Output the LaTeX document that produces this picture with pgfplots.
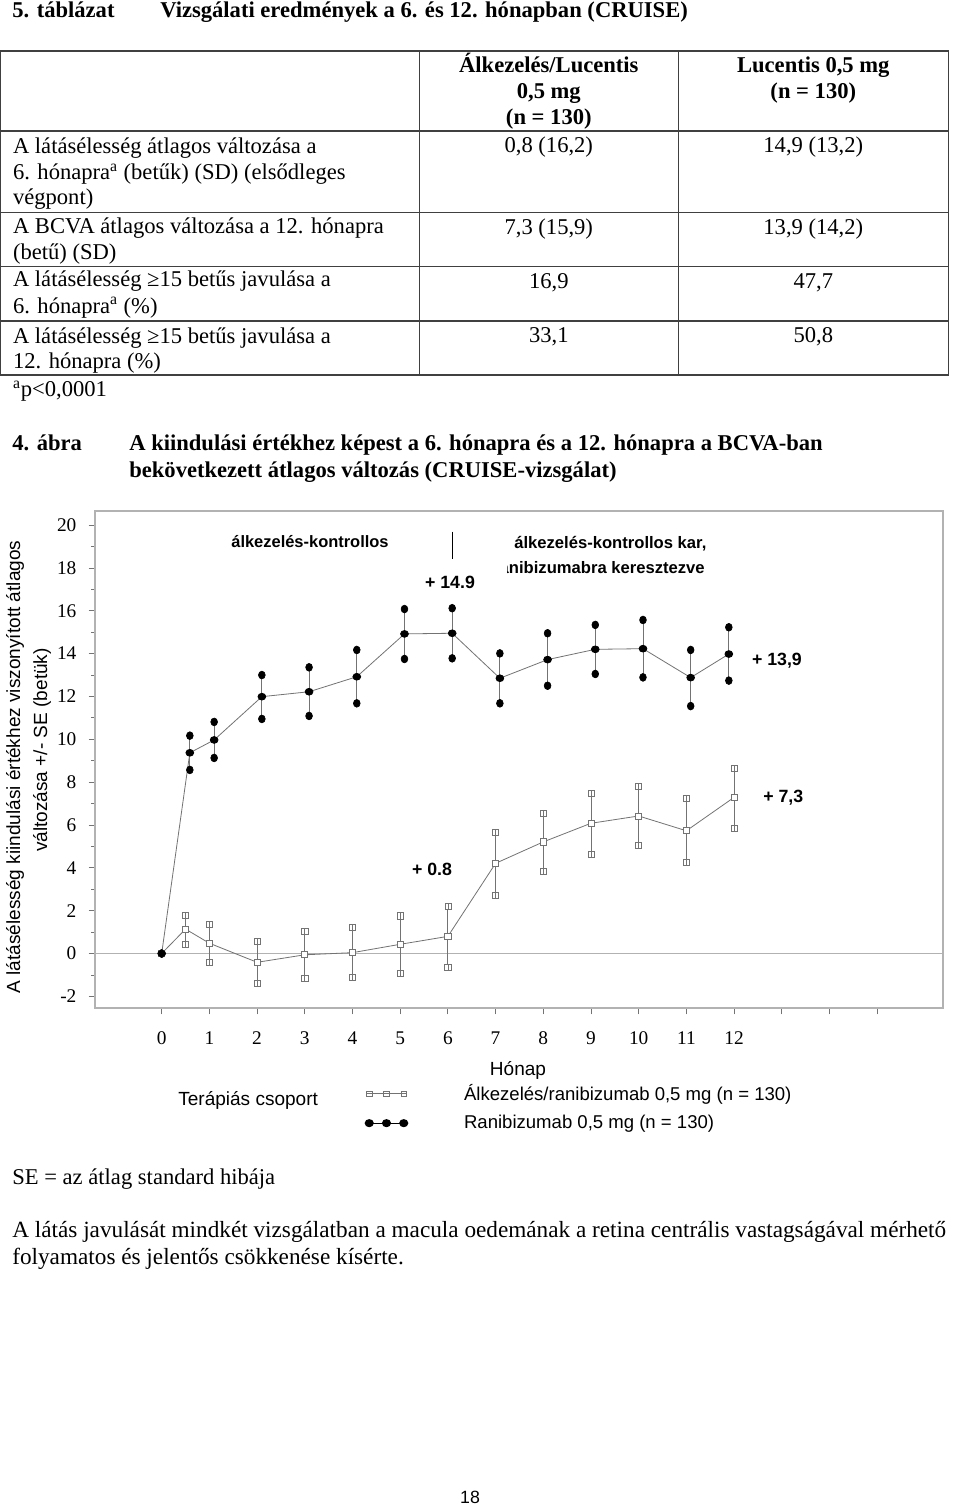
\documentclass[border=0pt]{standalone}
\usepackage{fontspec}
\setmainfont{Liberation Serif}
\newfontfamily\arial{Liberation Sans}
\usepackage{pgfplots}
\pgfplotsset{compat=1.18}
\usepackage{pgfplotstable}
\newcommand\fs[2]{\fontsize{#1}{#2}\selectfont}

\pgfdeclareplotmark{sqbar}{%
  \pgfpathrectangle{\pgfqpoint{-\pgfplotmarksize}{-\pgfplotmarksize}}{\pgfqpoint{2\pgfplotmarksize}{2\pgfplotmarksize}}%
  \pgfusepathqfillstroke
  \pgfpathmoveto{\pgfqpoint{-\pgfplotmarksize}{0pt}}%
  \pgfpathlineto{\pgfqpoint{\pgfplotmarksize}{0pt}}%
  \pgfusepathqstroke}

\pgfplotsset{
  sqleg/.style={legend image code/.code={\draw[##1, mark=sqbar, mark repeat=1, mark phase=1, mark size=1.7pt] plot coordinates {(1.7pt,0pt) (12.4pt,0pt) (23.1pt,0pt)};}},
  cileg/.style={legend image code/.code={\draw[##1, black, line width=0.8pt, mark repeat=1, mark phase=1] plot coordinates {(1.7pt,0pt) (12.4pt,0pt) (23.1pt,0pt)};}},
}

% Alkezeles/ranibizumab (squares)
\pgfplotstableread{
x    y      ep    em
0    0      0     0
0.5  1.14   0.66  0.70
1    0.48   0.88  0.89
2   -0.41   0.96  0.97
3   -0.06   1.11  1.10
4    0.04   1.20  1.15
5    0.43   1.33  1.35
6    0.80   1.42  1.44
7    4.21   1.45  1.49
8    5.21   1.35  1.37
9    6.08   1.41  1.43
10   6.42   1.37  1.37
11   5.73   1.50  1.47
12   7.29   1.37  1.43
}\tabSq

% Ranibizumab (filled circles)
\pgfplotstableread{
x      y      ep    em
0      0      0     0
0.59   9.37   0.80  0.80
1.10   9.97   0.84  0.84
2.10   11.99  1.01  1.04
3.09   12.22  1.14  1.13
4.09   12.92  1.25  1.24
5.09   14.92  1.16  1.17
6.09   14.95  1.17  1.17
7.09   12.85  1.16  1.17
8.09   13.72  1.23  1.22
9.09   14.20  1.14  1.15
10.09  14.23  1.34  1.34
11.09  12.88  1.29  1.33
11.89  13.98  1.25  1.24
}\tabCi

\begin{document}
\begin{tikzpicture}
\useasboundingbox (0pt,0pt) rectangle (595.2pt,-935.58pt);
\begin{scope}[x=0.62pt,y=-0.62pt]
% title
\node[anchor=base west,inner sep=0pt] at (12,18) {\fs{14}{16}\bfseries 5. táblázat};
\node[anchor=base west,inner sep=0pt] at (160,18) {\fs{14}{16}\bfseries Vizsgálati eredmények a 6. és 12. hónapban (CRUISE)};
% table lines
\draw[black!75,line width=0.9pt] (0.5,51) rectangle (948.3,375);
\draw[black!75,line width=0.9pt] (419.3,51) -- (419.3,375) (678.3,51) -- (678.3,375)
  (0.5,131) -- (948.3,131) (0.5,212.3) -- (948.3,212.3) (0.5,266.7) -- (948.3,266.7) (0.5,321) -- (948.3,321);
% header
\begin{scope}[every node/.style={anchor=base,inner sep=0pt,font=\fs{14}{16}\bfseries}]
\node at (548.8,73) {Álkezelés/Lucentis};
\node at (548.8,99) {0,5 mg};
\node at (548.8,125) {(n = 130)};
\node at (813.3,73) {Lucentis 0,5 mg};
\node at (813.3,99) {(n = 130)};
\end{scope}
\begin{scope}[every node/.style={anchor=base west,inner sep=0pt,font=\fs{14}{16}}]
\node at (12.7,154) {A látásélesség átlagos változása a};
\node at (12.7,180) {6. hónapra\textsuperscript{a} (betűk) (SD) (elsődleges};
\node at (12.7,205) {végpont)};
\node at (12.7,233.3) {A BCVA átlagos változása a 12. hónapra};
\node at (12.7,260) {(betű) (SD)};
\node at (12.7,286.7) {A látásélesség ≥15 betűs javulása a};
\node at (12.7,313.3) {6. hónapra\textsuperscript{a} (\%)};
\node at (12.7,343.3) {A látásélesség ≥15 betűs javulása a};
\node at (12.7,368.3) {12. hónapra (\%)};
\node at (12.7,396.7) {\textsuperscript{a}p<0,0001};
\end{scope}
\begin{scope}[every node/.style={anchor=base,inner sep=0pt,font=\fs{14}{16}}]
\node at (548.8,153) {0,8 (16,2)};
\node at (813.3,153) {14,9 (13,2)};
\node at (548.8,235) {7,3 (15,9)};
\node at (813.3,235) {13,9 (14,2)};
\node at (548.8,289) {16,9};
\node at (813.3,289) {47,7};
\node at (548.8,343) {33,1};
\node at (813.3,343) {50,8};
\end{scope}
% caption
\node[anchor=base west,inner sep=0pt] at (12,451) {\fs{14}{16}\bfseries 4. ábra};
\node[anchor=base west,inner sep=0pt] at (129,451) {\fs{14}{16}\bfseries A kiindulási értékhez képest a 6. hónapra és a 12. hónapra a BCVA-ban};
\node[anchor=base west,inner sep=0pt] at (129,478) {\fs{14}{16}\bfseries bekövetkezett átlagos változás (CRUISE-vizsgálat)};
% y label
\node[rotate=90,inner sep=0pt] at (15,767) {\arial\fs{11.8}{13}A látásélesség kiindulási értékhez viszonyított átlagos};
\node[rotate=90,inner sep=0pt] at (42,750) {\arial\fs{11.8}{13}változása +/- SE (betük)};
% bottom texts
\node[anchor=base west,inner sep=0pt] at (12,1184) {\fs{14}{16}SE = az átlag standard hibája};
\node[anchor=base west,inner sep=0pt] at (12,1237) {\fs{14.4}{16}A látás javulását mindkét vizsgálatban a macula oedemának a retina centrális vastagságával mérhető};
\node[anchor=base west,inner sep=0pt] at (12,1264) {\fs{14.4}{16}folyamatos és jelentős csökkenése kísérte.};
\node[anchor=base,inner sep=0pt] at (470,1503) {\arial\fs{11}{13}18};
% chart annotations
\node[anchor=base west,inner sep=0pt] at (178,1105) {\arial\fs{11.8}{13}Terápiás csoport};
\node[anchor=base,inner sep=0pt] at (518,1075) {\arial\fs{11.8}{13}Hónap};
\end{scope}

\begin{axis}[
  at={(58.9pt,-624.96pt)}, anchor=south west,
  scale only axis, width=525.76pt, height=308.14pt,
  xmin=-1.398, xmax=16.38, ymin=-2.544, ymax=20.657,
  axis line style={draw=black!30, line width=0.7pt},
  tick align=outside,
  xtick={0,1,2,3,4,5,6,7,8,9,10,11,12,13,14,15},
  xticklabels={0,1,2,3,4,5,6,7,8,9,10,11,12,{},{},{}},
  ytick={-2,0,2,4,6,8,10,12,14,16,18,20},
  yticklabels={-2,0,2,4,6,8,10,12,14,16,18,20},
  minor ytick={-1,1,3,5,7,9,11,13,15,17,19},
  xtick pos=bottom, ytick pos=left,
  major tick length=4pt, minor tick length=2.2pt,
  tick style={black!55, line width=0.5pt},
  minor tick style={black!55, line width=0.5pt},
  ticklabel style={font=\fs{12}{12}},
  xticklabel style={yshift=-7pt},
  yticklabel style={xshift=-4pt},
  clip=false,
  legend style={at={(0.3184,-0.147)}, anchor=north west, draw=none, fill=none,
    font=\arial\fs{11.5}{13}, row sep=3.5pt, inner sep=0pt},
  legend cell align=left,
  /tikz/every odd column/.append style={column sep=33pt},
]
\draw[black!30, line width=0.7pt] (axis cs:-1.398,0) -- (axis cs:16.38,0);
\addplot[black!55, line width=0.5pt, mark=square*, mark size=1.9pt,
  mark options={black!55, fill=white, solid}, sqleg,
  error bars/.cd, y dir=both, y explicit, error mark=sqbar,
  error mark options={black!55, fill=white, mark size=1.9pt},
  error bar style={black!55, line width=0.5pt}]
  table[x=x, y=y, y error plus=ep, y error minus=em] {\tabSq};
\addlegendentry{Álkezelés/ranibizumab 0,5 mg (n = 130)}
\addplot[black!55, line width=0.5pt, mark=*, mark size=2.1pt,
  mark options={black, fill=black, xscale=1.15}, cileg,
  error bars/.cd, y dir=both, y explicit, error mark=*,
  error mark options={black, fill=black, mark size=2.1pt, xscale=1.15},
  error bar style={black!55, line width=0.5pt}]
  table[x=x, y=y, y error plus=ep, y error minus=em] {\tabCi};
\addlegendentry{Ranibizumab 0,5 mg (n = 130)}
\end{axis}

\begin{scope}[x=0.62pt,y=-0.62pt]
\node[anchor=base,inner sep=0pt] at (310,548) {\arial\fs{10.2}{12}\bfseries álkezelés-kontrollos};
\draw[black,line width=0.7pt] (452.3,531.7) -- (452.3,559.3);
\node[anchor=base,inner sep=0pt] at (450,589) {\arial\fs{11}{12}\bfseries + 14.9};
\node[anchor=base west,inner sep=0pt] at (514,549) {\arial\fs{10.3}{12}\bfseries álkezelés-kontrollos kar,};
\begin{scope}
\clip (507,555) rectangle (720,582);
\node[anchor=base east,inner sep=0pt] at (705,574) {\arial\fs{10.3}{12}\bfseries ranibizumabra keresztezve};
\end{scope}
\node[anchor=base west,inner sep=0pt] at (411.7,875.7) {\arial\fs{11}{12}\bfseries + 0.8};
\node[anchor=base west,inner sep=0pt] at (751.7,666) {\arial\fs{11}{12}\bfseries + 13,9};
\node[anchor=base west,inner sep=0pt] at (763,803) {\arial\fs{11}{12}\bfseries + 7,3};
\end{scope}
\end{tikzpicture}
\end{document}
